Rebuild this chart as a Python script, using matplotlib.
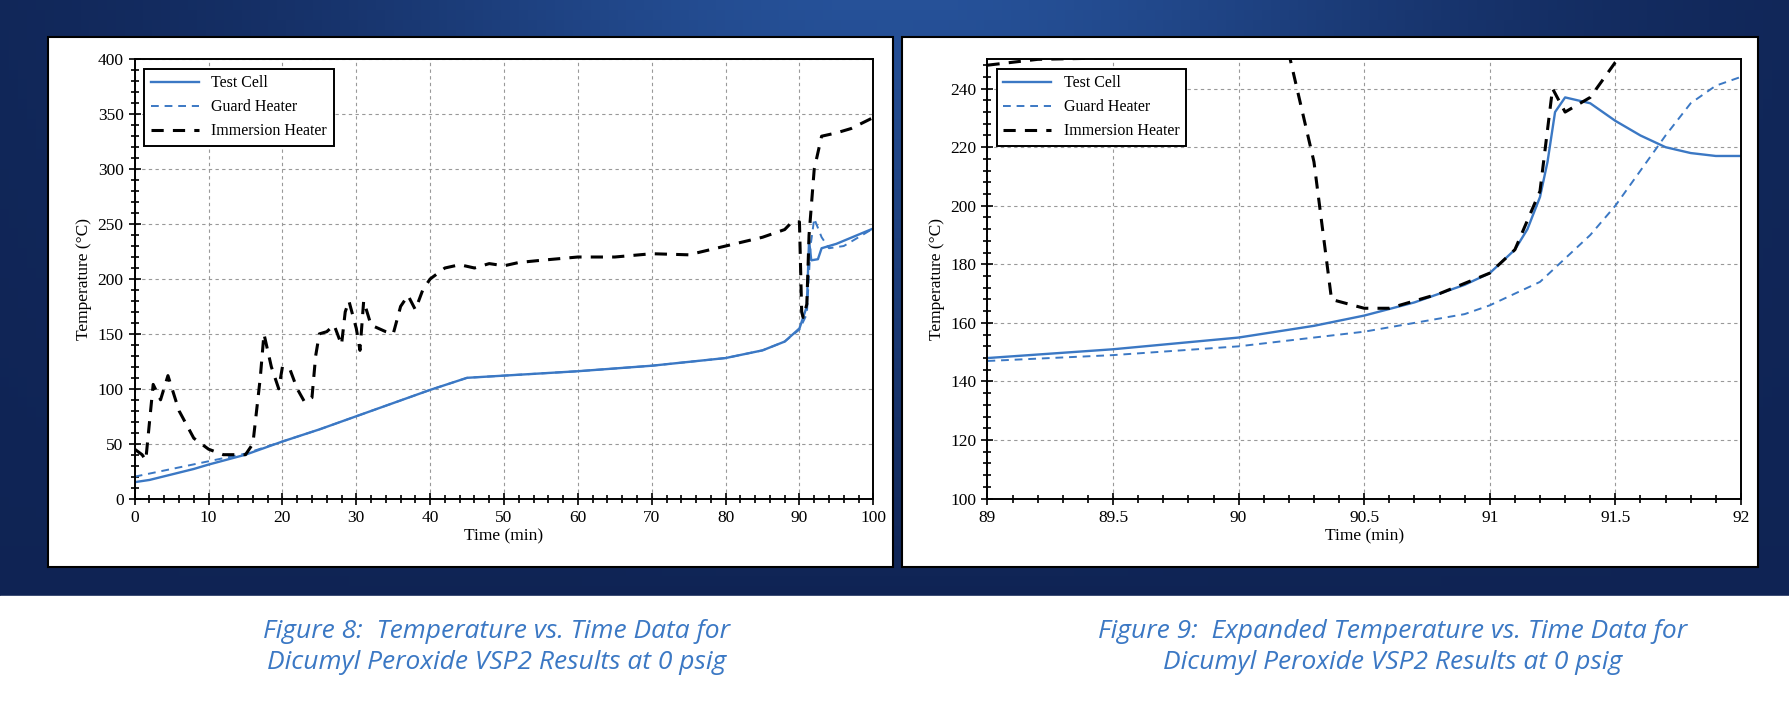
import numpy as np
import matplotlib.pyplot as plt
from matplotlib.patches import Rectangle
from matplotlib.ticker import MultipleLocator

# ---- Figure 8 data (full run) ----
t8_cell = [0, 2, 5, 8, 10, 15, 20, 25, 30, 35, 40, 45, 50, 60, 70, 80, 85, 88, 90, 91, 91.3, 91.6, 92.5, 93, 95, 100]
T8_cell = [15, 17, 22, 27, 31, 40, 52, 63, 75, 87, 99, 110, 112, 116, 121, 128, 135, 143, 155, 175, 235, 217, 218, 228, 232, 246]
t8_guard = [0, 5, 10, 15, 20, 25, 30, 35, 40, 45, 50, 60, 70, 80, 85, 88, 90, 91, 91.5, 92, 93, 94, 96, 100]
T8_guard = [20, 27, 34, 41, 52, 63, 75, 87, 99, 110, 112, 116, 121, 128, 135, 143, 154, 168, 230, 255, 238, 228, 230, 246]
t8_imm = [0, 1, 1.5, 2.5, 3.5, 4.5, 6, 8, 10, 12, 15, 16, 17, 17.5, 18.5, 19.5, 20, 21, 22, 23, 24, 24.5, 25, 26, 27,
          28, 28.5, 29, 30, 30.5, 31, 32, 34, 35, 36, 37, 38, 39, 40, 42, 44, 46, 48, 50, 52, 55, 60, 65, 70, 75, 80,
          85, 88, 89, 90, 90.3, 90.5, 91, 91.3, 92, 93, 95, 97, 100]
T8_imm = [45, 40, 35, 104, 90, 112, 80, 55, 45, 40, 40, 50, 110, 150, 120, 100, 120, 118, 100, 88, 92, 130, 150, 152, 158,
          140, 170, 180, 155, 135, 180, 158, 152, 150, 175, 185, 172, 190, 200, 210, 213, 210, 214, 212, 215, 217, 220, 220, 223, 222, 230,
          238, 245, 252, 252, 170, 165, 177, 240, 300, 330, 333, 337, 347]

# ---- Figure 9 data (expanded) ----
t9_cell = [89, 89.5, 90, 90.3, 90.5, 90.7, 90.9, 91, 91.1, 91.15, 91.2, 91.23, 91.26, 91.3, 91.4, 91.5, 91.6, 91.7, 91.8, 91.9, 92]
T9_cell = [148, 151, 155, 159, 162.5, 167, 173, 177, 185, 192, 203, 215, 232, 237, 235, 229, 224, 220, 218, 217, 217]
t9_guard = [89, 89.5, 90, 90.3, 90.5, 90.7, 90.9, 91, 91.1, 91.2, 91.3, 91.4, 91.5, 91.6, 91.7, 91.8, 91.9, 92]
T9_guard = [147, 149, 152, 155, 157, 160, 163, 166, 170, 174, 182, 190, 200, 212, 224, 235, 241, 244]
t9_imm = [89, 89.1, 89.2, 89.5, 90.2, 90.3, 90.37, 90.5, 90.6, 90.8, 91, 91.1, 91.2, 91.25, 91.3, 91.4, 91.5, 91.55]
T9_imm = [248, 249, 250, 250.5, 252, 215, 168, 165, 165, 170, 177, 185, 205, 240, 232, 237, 249, 253]

captions = ["Figure 8:  Temperature vs. Time Data for\nDicumyl Peroxide VSP2 Results at 0 psig",
            "Figure 9:  Expanded Temperature vs. Time Data for\nDicumyl Peroxide VSP2 Results at 0 psig"]

blue = "#3b78c4"
W, H = 1568, 617  # layout coordinate system (scaled to 1790x704 output)
fig = plt.figure(figsize=(17.9, 7.04), dpi=100)

# background: dark blue band on top, white below
bg = fig.add_axes([0, 0, 1, 1])
bg.axis("off")
yy = np.linspace(0, 1, 60)[:, None]
xx = np.linspace(-1, 1, 200)[None, :]
glow = np.exp(-((xx * 1.6) ** 2)) * (1 - yy) * 0.6
img = np.zeros((60, 200, 3))
img[..., 0] = 0.06 + 0.15 * glow
img[..., 1] = 0.14 + 0.30 * glow
img[..., 2] = 0.33 + 0.45 * glow
bg.imshow(img, extent=[0, W, 522, 0], aspect="auto")
bg.add_patch(Rectangle((0, 522), W, H - 522, color="white"))
bg.add_patch(Rectangle((42, 32), 740, 465, facecolor="white", edgecolor="black", lw=1.5))
bg.add_patch(Rectangle((790, 32), 750, 465, facecolor="white", edgecolor="black", lw=1.5))
bg.set_xlim(0, W)
bg.set_ylim(H, 0)

serif = "Liberation Serif"


def style(ax):
    ax.grid(True, which="major", color="#999999", linestyle=(0, (3, 3)), lw=0.8)
    ax.tick_params(which="both", direction="inout", labelsize=12.5, width=1.2)
    ax.tick_params(which="major", length=9)
    ax.tick_params(which="minor", length=6)
    for lab in ax.get_xticklabels() + ax.get_yticklabels():
        lab.set_fontfamily(serif)
    for s in ax.spines.values():
        s.set_linewidth(1.4)
    ax.set_xlabel("Time (min)", fontfamily=serif, fontsize=12.5, labelpad=2)
    ax.set_ylabel("Temperature (°C)", fontfamily=serif, fontsize=12.5)
    leg = ax.legend(loc="upper left", prop={"family": serif, "size": 11.5}, fancybox=False,
                    edgecolor="black", framealpha=1, handlelength=3, borderaxespad=0.6)
    leg.get_frame().set_linewidth(1.4)


ax1 = fig.add_axes([118 / W, 1 - 437 / H, (765 - 118) / W, (437 - 52) / H])
ax1.plot(t8_cell, T8_cell, color=blue, lw=1.7, label="Test Cell")
ax1.plot(t8_guard, T8_guard, color=blue, lw=1.4, ls=(0, (4, 3)), label="Guard Heater")
ax1.plot(t8_imm, T8_imm, color="black", lw=2.2, ls=(0, (4, 3)), label="Immersion Heater")
ax1.set_xlim(0, 100)
ax1.set_ylim(0, 400)
ax1.xaxis.set_major_locator(MultipleLocator(10))
ax1.xaxis.set_minor_locator(MultipleLocator(2))
ax1.yaxis.set_major_locator(MultipleLocator(50))
ax1.yaxis.set_minor_locator(MultipleLocator(10))
style(ax1)

ax2 = fig.add_axes([865 / W, 1 - 437 / H, (1525 - 865) / W, (437 - 52) / H])
ax2.plot(t9_cell, T9_cell, color=blue, lw=1.7, label="Test Cell")
ax2.plot(t9_guard, T9_guard, color=blue, lw=1.4, ls=(0, (4, 3)), label="Guard Heater")
ax2.plot(t9_imm, T9_imm, color="black", lw=2.2, ls=(0, (4, 3)), label="Immersion Heater")
ax2.set_xlim(89, 92)
ax2.set_ylim(100, 250)
ax2.set_xticks([89, 89.5, 90, 90.5, 91, 91.5, 92])
ax2.set_xticklabels(["89", "89.5", "90", "90.5", "91", "91.5", "92"])
ax2.xaxis.set_minor_locator(MultipleLocator(0.1))
ax2.set_yticks([100, 120, 140, 160, 180, 200, 220, 240])
ax2.yaxis.set_minor_locator(MultipleLocator(4))
style(ax2)

fig.text(435 / W, 1 - 567 / H, captions[0], ha="center", va="center", fontsize=19,
         style="italic", color=blue, family="Open Sans", linespacing=1.35)
fig.text(1220 / W, 1 - 567 / H, captions[1], ha="center", va="center", fontsize=19,
         style="italic", color=blue, family="Open Sans", linespacing=1.35)

fig.savefig("out.png", dpi=100)
